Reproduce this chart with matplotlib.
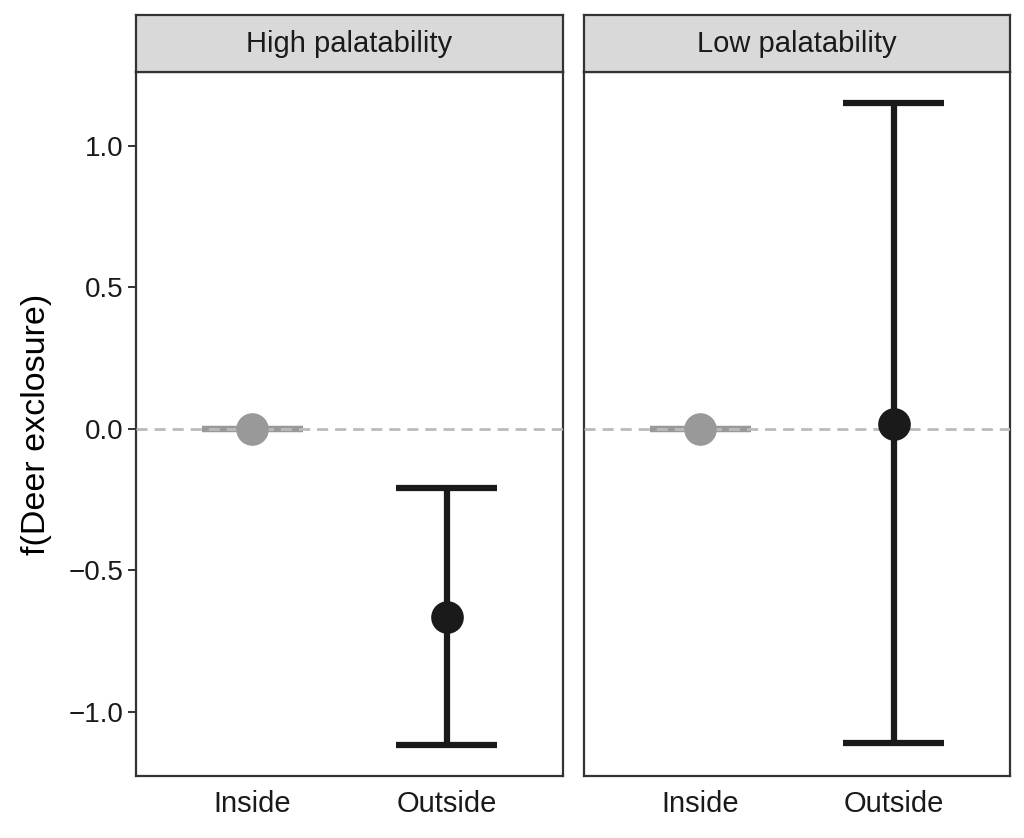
import matplotlib.pyplot as plt

# data
panels = ["High palatability", "Low palatability"]
groups = ["Inside", "Outside"]
est = [[0.0, -0.665], [0.0, 0.018]]
lower = [[0.0, -1.117], [0.0, -1.110]]
upper = [[0.0, -0.208], [0.0, 1.153]]
colors = ["#999999", "#1a1a1a"]

plt.rcParams['font.family'] = ['Liberation Sans', 'DejaVu Sans']

fig = plt.figure(figsize=(10.24, 8.38), dpi=100)
W, H = 1024, 838
ax_pos = [(136, 563), (584, 1010)]
top, bot = 72, 776
strip_top = 15

for i, name in enumerate(panels):
    x0, x1 = ax_pos[i]
    ax = fig.add_axes([x0 / W, 1 - bot / H, (x1 - x0) / W, (bot - top) / H])
    xs = range(1, len(groups) + 1)
    for j, x in enumerate(xs):
        ax.vlines(x, lower[i][j], upper[i][j], color=colors[j], lw=4.5, zorder=2)
        ax.hlines([lower[i][j], upper[i][j]], x - 0.26, x + 0.26, color=colors[j], lw=4.5, zorder=2)
    ax.axhline(0, color="#bbbbbb", ls=(0, (4, 2.5)), lw=2, zorder=3)
    for j, x in enumerate(xs):
        ax.plot(x, est[i][j], 'o', ms=23.5, color=colors[j], mec='none', zorder=4)
    ax.set_xlim(0.4, 2.6)
    ax.set_ylim(-1.226, 1.261)
    ax.set_xticks(list(xs))
    ax.set_xticklabels(groups, fontsize=21, color="#1a1a1a")
    ax.tick_params(axis='x', length=0, pad=10)
    ax.set_yticks([-1.0, -0.5, 0.0, 0.5, 1.0])
    if i == 0:
        ax.set_yticklabels(["\u22121.0", "\u22120.5", "0.0", "0.5", "1.0"], fontsize=20, color="#1a1a1a")
        ax.tick_params(axis='y', length=6, width=1.4, color="#333333", pad=3)
        ax.set_ylabel("f(Deer exclosure)", fontsize=24.5, labelpad=12)
    else:
        ax.tick_params(axis='y', length=0)
        ax.set_yticklabels([])
    for s in ax.spines.values():
        s.set_color("#333333")
        s.set_linewidth(1.6)
    # strip
    sx = fig.add_axes([x0 / W, 1 - top / H, (x1 - x0) / W, (top - strip_top) / H])
    sx.set_facecolor("#d9d9d9")
    sx.set_xticks([])
    sx.set_yticks([])
    for s in sx.spines.values():
        s.set_color("#333333")
        s.set_linewidth(1.6)
    sx.text(0.5, 0.5, name, ha='center', va='center', fontsize=21, color="#1a1a1a",
            transform=sx.transAxes)

fig.savefig("out.png", dpi=100)
